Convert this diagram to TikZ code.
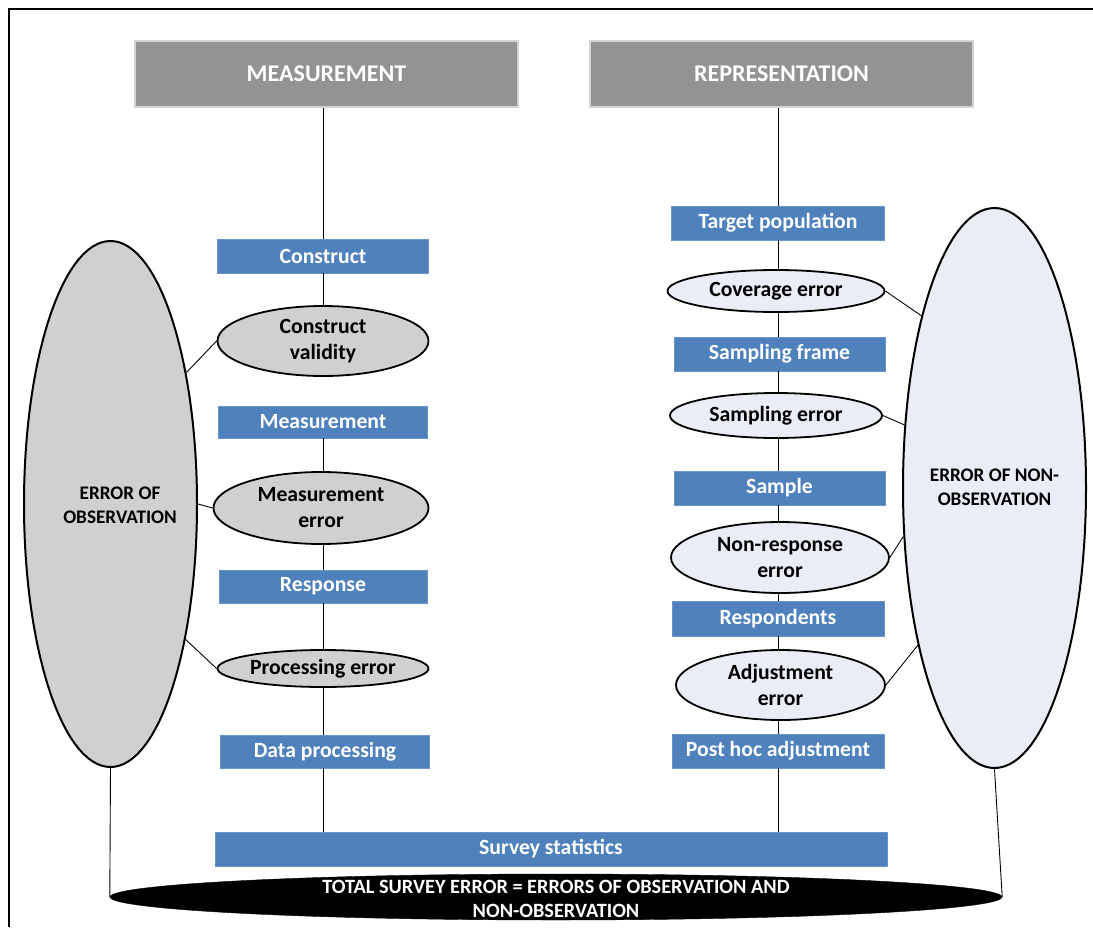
\documentclass[tikz,border=0pt]{standalone}
\usepackage{fontspec}
\setmainfont{Carlito}
\usetikzlibrary{shapes.geometric}

\definecolor{hdrgray}{HTML}{939393}
\definecolor{hdredge}{HTML}{D3D3D3}
\definecolor{stageblue}{HTML}{4F81BD}
\definecolor{obsfill}{HTML}{D0D0D0}
\definecolor{nobsfill}{HTML}{EAEDF5}

\tikzset{
  header/.style={rectangle, fill=hdrgray, draw=hdredge, line width=1.5,
    minimum width=383, minimum height=66, inner sep=0, text=white,
    font=\bfseries\fontsize{24}{28}\selectfont},
  stagebox/.style={rectangle, fill=stageblue, draw=stageblue!85!white, line width=0.6,
    minimum height=34, inner sep=0, text=white,
    font=\bfseries\fontsize{21.7}{26}\selectfont},
  errbox/.style={ellipse, draw=black, line width=1.8, inner sep=0, align=center,
    font=\bfseries\fontsize{21.7}{26}\selectfont},
  bigerr/.style={ellipse, draw=black, line width=2, inner sep=0, align=center},
  grouptext/.style={align=center, font=\bfseries\fontsize{19.2}{24}\selectfont},
  link/.style={draw=black, line width=0.9},
}

\begin{document}
\begin{tikzpicture}[x=1pt, y=-1pt]
\useasboundingbox (0,0) rectangle (1093,927);

% outer frame (left and top edges)
\draw[line width=2] (9,927) -- (9,9) -- (1093,9);

% column headers
\node[header] (measHdr) at (326.5,74) {MEASUREMENT};
\node[header] (repHdr)  at (781.5,74) {REPRESENTATION};

% measurement column
\node[stagebox, minimum width=211] (construct) at (323,256) {Construct};
\node[errbox, fill=obsfill, minimum width=211, minimum height=70] (cv) at (323,341) {Construct\\validity};
\node[stagebox, minimum width=209, minimum height=32] (measurement) at (323,422) {Measurement};
\node[errbox, fill=obsfill, minimum width=215, minimum height=72] (me) at (321,508) {Measurement\\error};
\node[stagebox, minimum width=208, minimum height=33] (response) at (323,586.5) {Response};
\node[errbox, fill=obsfill, minimum width=211, minimum height=37] (pe) at (323,668.5) {Processing error};
\node[stagebox, minimum width=209, minimum height=33] (dataproc) at (325,751.5) {Data processing};

% representation column
\node[stagebox, minimum width=213] (target) at (778,223) {Target population};
\node[errbox, fill=nobsfill, minimum width=217, minimum height=42] (cov) at (776,291) {Coverage error};
\node[stagebox, minimum width=211] (frame) at (779.5,354) {Sampling frame};
\node[errbox, fill=nobsfill, minimum width=212, minimum height=45] (se) at (776,415.5) {Sampling error};
\node[stagebox, minimum width=211] (sample) at (779.5,488) {Sample};
\node[errbox, fill=nobsfill, minimum width=218, minimum height=71] (nre) at (780,557.5) {Non-response\\error};
\node[stagebox, minimum width=212, minimum height=35] (resp) at (778,618.5) {Respondents};
\node[errbox, fill=nobsfill, minimum width=209, minimum height=70] (ae) at (780.5,685) {Adjustment\\error};
\node[stagebox, minimum width=212] (posthoc) at (778,751) {Post hoc adjustment};

% common result
\node[stagebox, minimum width=672] (stats) at (551,849) {Survey statistics};

% grouping ellipses
\node[bigerr, fill=obsfill, minimum width=173, minimum height=526] (obs) at (110.5,504) {};
\node[grouptext] (obstext) at (120,505) {ERROR OF\\OBSERVATION};
\node[bigerr, fill=nobsfill, minimum width=183, minimum height=560] (nobs) at (994.5,488) {};
\node[grouptext] (nobstext) at (994.5,487) {ERROR OF NON-\\OBSERVATION};

% total survey error
\node[ellipse, fill=black, draw=black, minimum width=892, minimum height=46, inner sep=0] (tse) at (556,897) {};
\node[text=white, align=center, font=\bfseries\fontsize{20.3}{24}\selectfont] (tsetext) at (556,899)
  {TOTAL SURVEY ERROR = ERRORS OF OBSERVATION AND\\NON-OBSERVATION};

% measurement column connectors
\draw[link] (construct.north) -- (construct.north |- measHdr.south);
\draw[link] (construct.south) -- (construct.south |- cv.north);
\draw[link] (cv.south) -- (cv.south -| measurement.north);
\draw[link] (measurement.south) -- (measurement.south |- me.north);
\draw[link] (response.north) -- (response.north |- me.south);
\draw[link] (response.south) -- (response.south |- pe.north);
\draw[link] (pe.south) -- (pe.south |- dataproc.north);
\draw[link] (pe.south |- dataproc.south) -- (pe.south |- stats.north);

% representation column connectors
\draw[link] (target.north) -- (target.north |- repHdr.south);
\draw[link] (target.south) -- (target.south |- cov.north);
\draw[link] (target.south |- cov.south) -- (target.south |- frame.north);
\draw[link] (target.south |- frame.south) -- (target.south |- se.north);
\draw[link] (target.south |- se.south) -- (target.south |- sample.north);
\draw[link] (target.south |- sample.south) -- (target.south |- nre.north);
\draw[link] (target.south |- nre.south) -- (target.south |- resp.north);
\draw[link] (target.south |- resp.south) -- (target.south |- ae.north);
\draw[link] (target.south |- ae.south) -- (target.south |- posthoc.north);
\draw[link] (posthoc.south) -- (posthoc.south |- stats.north);

% errors to their groups
\draw[link] (cv.west) -- (obs.60);
\draw[link] (me.west) -- (obs.east);
\draw[link] (pe.west) -- (obs.-61);
\draw[link] (cov.east) -- (nobs.113);
\draw[link] (se.east) -- (nobs.145);
\draw[link] (nre.east) -- (nobs.208);
\draw[link] (ae.east) -- (nobs.244);

% groups to the total
\draw[link] (obs.south) -- (tse.west);
\draw[link] (nobs.south) -- (tse.east);
\end{tikzpicture}
\end{document}
